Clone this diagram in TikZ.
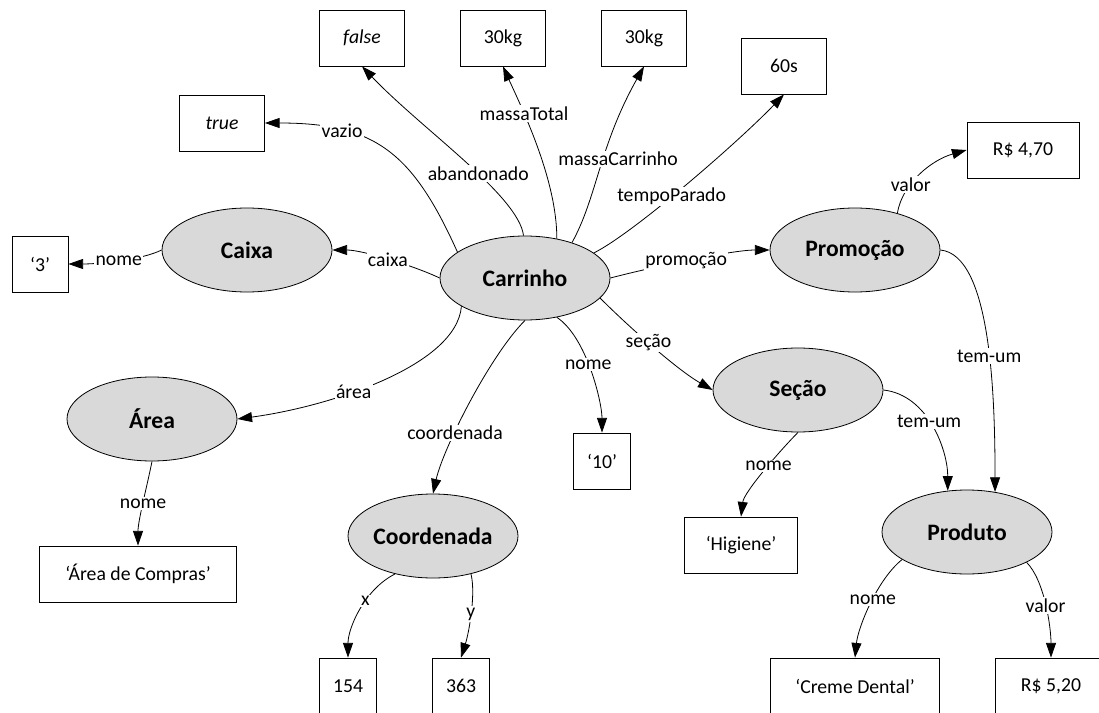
\documentclass[tikz,border=0pt]{standalone}
\usepackage{fontspec}
\setmainfont{Carlito}
\usepackage{tikz}
\usetikzlibrary{shapes.geometric,arrows.meta}
\definecolor{classgray}{HTML}{D9D9D9}

\begin{document}
\begin{tikzpicture}[x=0.75pt, y=0.75pt, line width=0.6pt,
    classe/.style={ellipse, draw, fill=classgray, minimum width=127.5pt, minimum height=63pt, inner sep=0pt, font=\fontsize{17.7}{20}\selectfont\bfseries},
    literal/.style={draw, minimum height=42pt, minimum width=63.75pt, inner sep=0pt, font=\fontsize{14.8}{17}\selectfont},
    rel/.style={-{Triangle[length=11pt,width=7.5pt]}},
    rotulo/.style={fill=white, inner sep=1pt, font=\fontsize{14.8}{17}\selectfont}]
    \useasboundingbox (0,0) rectangle (1099,-713);

    % draw classes
    \node[classe] (carrinho) at (525,-278) {Carrinho};
    \node[classe] (caixa) at (247,-250) {Caixa};
    \node[classe] (area) at (152,-419) {Área};
    \node[classe] (coordenada) at (433,-536) {Coordenada};
    \node[classe] (promocao) at (855,-250) {Promoção};
    \node[classe] (secao) at (798,-390) {Seção};
    \node[classe] (produto) at (967,-532) {Produto};

    % draw values
    \node[literal] (vtrue) at (222,-123) {\itshape true};
    \node[literal] (vfalse) at (362,-38) {\itshape false};
    \node[literal] (vmassa) at (503,-38) {30kg};
    \node[literal] (vmassac) at (644,-38) {30kg};
    \node[literal] (vtempo) at (784,-66) {60s};
    \node[literal, minimum width=84pt] (vpreco) at (1023,-150) {R\$ 4,70};
    \node[literal, minimum width=42pt] (vcaixa) at (40,-264) {‘3’};
    \node[literal, minimum width=147.75pt] (varea) at (138,-574) {‘Área de Compras’};
    \node[literal, minimum width=42.75pt] (vx) at (348,-686) {154};
    \node[literal, minimum width=42.75pt] (vy) at (461,-686) {363};
    \node[literal, minimum width=42.75pt] (vnome) at (602,-461) {‘10’};
    \node[literal, minimum width=84.75pt] (vsecao) at (741,-545) {‘Higiene’};
    \node[literal, minimum width=126.75pt] (vproduto) at (855,-686) {‘Creme Dental’};
    \node[literal, minimum width=84pt] (vpreco2) at (1051,-686) {R\$ 5,20};

    % draw relations of Carrinho
    \draw[rel] (carrinho.159) .. controls +(-45,100) and +(110,0) .. (vtrue.east) node[rotulo, pos=0.72] {vazio};
    \draw[rel] (carrinho.92) .. controls +(-5,40) and +(60,-63) .. (vfalse.south) node[rotulo, pos=0.42] {abandonado};
    \draw[rel] (carrinho.51) .. controls +(0,60) and +(18,-40) .. (vmassa.south) node[rotulo, pos=0.68] {massaTotal};
    \draw[rel] (carrinho.37) .. controls +(25,45) and +(-45,-80) .. (vmassac.south) node[rotulo, pos=0.55, xshift=11pt] {massaCarrinho};
    \draw[rel] (carrinho.20) .. controls +(40,20) and +(-45,-47) .. (vtempo.south) node[rotulo, pos=0.43] {tempoParado};
    \draw[rel] (carrinho.east) .. controls +(30,8) and +(-40,0) .. (promocao.west) node[rotulo, pos=0.5] {promoção};
    \draw[rel] (carrinho.west) .. controls +(-25,12) and +(30,0) .. (caixa.east) node[rotulo, pos=0.5] {caixa};
    \draw[rel] (carrinho.204) .. controls +(-5,-60) and +(90,12) .. (area.east) node[rotulo, pos=0.6] {área};
    \draw[rel] (carrinho.south) .. controls +(-35,-35) and +(10,45) .. (coordenada.north) node[rotulo, pos=0.65] {coordenada};
    \draw[rel] (carrinho.-51) .. controls +(30,-20) and +(0,30) .. (vnome.north) node[rotulo, pos=0.45] {nome};
    \draw[rel] (carrinho.-15) .. controls +(30,-30) and +(-35,20) .. (secao.west) node[rotulo, pos=0.45] {seção};

    % draw the other relations
    \draw[rel] (caixa.west) .. controls +(-20,-10) and +(30,0) .. (vcaixa.east) node[rotulo, pos=0.5] {nome};
    \draw[rel] (area.south) .. controls +(-5,-25) and +(0,25) .. (varea.north) node[rotulo, pos=0.5] {nome};
    \draw[rel] (coordenada.-135) .. controls +(-30,-15) and +(0,30) .. (vx.north) node[rotulo, pos=0.4] {x};
    \draw[rel] (coordenada.-45) .. controls +(5,-20) and +(8,25) .. (vy.north) node[rotulo, pos=0.5] {y};
    \draw[rel] (secao.south) .. controls +(-15,-15) and +(3,25) .. (vsecao.north) node[rotulo, pos=0.45] {nome};
    \draw[rel] (secao.east) .. controls +(45,-5) and +(0,40) .. (produto.115) node[rotulo, pos=0.45] {tem-um};
    \draw[rel] (promocao.east) .. controls +(50,-5) and +(0,100) .. (produto.55) node[rotulo, pos=0.57] {tem-um};
    \draw[rel] (promocao.41) .. controls +(5,30) and +(-35,-10) .. (vpreco.west) node[rotulo, pos=0.35] {valor};
    \draw[rel] (produto.-157) .. controls +(-25,-20) and +(3,30) .. (vproduto.north) node[rotulo, pos=0.45] {nome};
    \draw[rel] (produto.-27) .. controls +(18,-18) and +(0,30) .. (vpreco2.north) node[rotulo, pos=0.5] {valor};
\end{tikzpicture}
\end{document}
